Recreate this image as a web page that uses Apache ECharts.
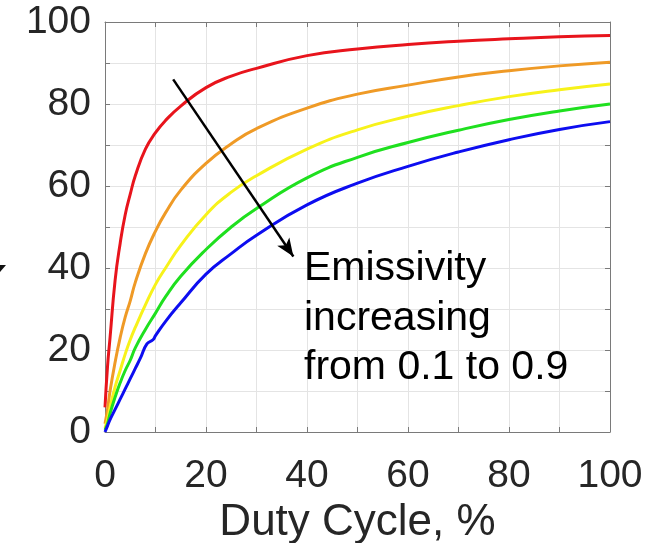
<!DOCTYPE html>
<html>
<head>
<meta charset="utf-8">
<script src="https://cdn.jsdelivr.net/npm/echarts@6/dist/echarts.min.js"></script>
<style>
  html, body { margin: 0; padding: 0; background: #fff; }
  #chart { width: 664px; height: 543px; }
</style>
</head>
<body>
<div id="chart"></div>
<script>
// duty cycle (%) sample points
var dutyX = [0, 0.5, 1, 2, 3, 4, 5, 6, 8, 10, 12, 15, 20, 25, 30, 40, 50, 60, 70, 80, 90, 100];
var blueX = [0, 0.5, 1, 2, 3, 4, 5, 6, 7, 8.3, 9.5, 10, 12, 15, 20, 25, 30, 40, 50, 60, 70, 80, 90, 100];

// one curve per emissivity, red = 0.1 ... blue = 0.9
var red    = [6, 16, 23, 37, 46, 53, 58, 62.5, 69, 73, 76, 79.5, 84, 86.8, 88.7, 91.8, 93.4, 94.5, 95.3, 95.9, 96.4, 96.7];
var orange = [2, 5.5, 10, 17, 23, 28, 32, 36.5, 43.5, 49, 53.5, 59, 65.5, 70.3, 74, 79, 82.4, 84.6, 86.6, 88.1, 89.3, 90.2];
var yellow = [1, 3, 6, 11, 15, 19, 22.5, 25.5, 31, 36, 40, 45.5, 53, 58.5, 62.5, 69, 73.7, 77, 79.6, 81.8, 83.5, 84.9];
var green  = [0.5, 2, 4.5, 8.5, 12, 15, 17.5, 20.5, 25, 29, 33, 38, 44.5, 50, 54.5, 62, 67, 70.6, 73.6, 76.2, 78.3, 80];
var blue   = [0, 1.5, 3, 5.5, 8, 10.5, 13, 15.5, 18, 21.5, 22.5, 23.5, 27, 31.5, 38.5, 43.5, 48, 55.4, 60.7, 64.8, 68.3, 71.3, 73.8, 75.7];

var names  = ['0.1', '0.3', '0.5', '0.7', '0.9'];
var colors = ['#e8141c', '#ef9a26', '#f7f21a', '#1fe01f', '#0d0df0'];

// arrow annotation, in data units
var arrowFrom = [13.5, 86];
var arrowTo   = [37.3, 42.8];
var noteText  = 'Emissivity\nincreasing\nfrom 0.1 to 0.9';

function pairs(xs, ys) {
    return xs.map(function (x, i) { return [x, ys[i]]; });
}

var curves = [
    pairs(dutyX, red),
    pairs(dutyX, orange),
    pairs(dutyX, yellow),
    pairs(dutyX, green),
    pairs(blueX, blue)
];

var axisGray = '#7a7a7a';
var labelFont = 'Liberation Sans, Arial, sans-serif';

function tickLabel(margin) {
    return {
        color: '#262626',
        fontSize: 39,
        fontFamily: labelFont,
        margin: margin,
        formatter: function (v) { return v % 20 === 0 ? String(v) : ''; }
    };
}

function mainAxis(extra) {
    var ax = {
        type: 'value',
        min: 0,
        max: 100,
        interval: 10,
        axisLine: { show: true, onZero: false, lineStyle: { color: axisGray, width: 1 } },
        axisTick: { show: true, inside: true, length: 5, lineStyle: { color: axisGray } },
        splitLine: { show: true, lineStyle: { color: '#e4e4e4', width: 1 } }
    };
    for (var k in extra) ax[k] = extra[k];
    return ax;
}

function boxAxis(pos) {
    return {
        type: 'value',
        position: pos,
        min: 0,
        max: 100,
        interval: 10,
        axisLine: { show: true, onZero: false, lineStyle: { color: axisGray, width: 1 } },
        axisTick: { show: true, inside: true, length: 5, lineStyle: { color: axisGray } },
        axisLabel: { show: false },
        splitLine: { show: false }
    };
}

var series = curves.map(function (d, i) {
    return {
        name: names[i],
        type: 'line',
        data: d,
        xAxisIndex: 0,
        yAxisIndex: 0,
        showSymbol: false,
        smooth: 0.5,
        lineStyle: { color: colors[i], width: 3 },
        itemStyle: { color: colors[i] },
        z: 3
    };
});

series[4].markLine = {
    silent: true,
    symbol: ['none', 'arrow'],
    symbolSize: [11, 18],
    label: { show: false },
    lineStyle: { color: '#000', width: 2.5, type: 'solid' },
    data: [[{ coord: arrowFrom }, { coord: arrowTo }]],
    z: 5
};

var option = {
    backgroundColor: '#fff',
    animation: false,
    grid: { left: 105, right: 54, top: 22, bottom: 111, outerBoundsMode: 'none', containLabel: false },
    xAxis: [
        mainAxis({
            position: 'bottom',
            name: 'Duty Cycle, %',
            nameLocation: 'middle',
            nameGap: 63,
            nameTextStyle: { color: '#262626', fontSize: 44, fontFamily: labelFont },
            axisLabel: tickLabel(25)
        }),
        boxAxis('top')
    ],
    yAxis: [
        mainAxis({
            position: 'left',
            axisLabel: tickLabel(14)
        }),
        boxAxis('right')
    ],
    graphic: [
        {
            type: 'text',
            left: 304,
            top: 244,
            z: 10,
            style: {
                text: noteText,
                fill: '#000',
                font: '41px Liberation Sans, Arial, sans-serif',
                lineHeight: 49.5
            }
        },
        {
            // clipped piece of a neighbouring arrow at the left edge
            type: 'polygon',
            z: 10,
            shape: { points: [[0, 265], [6, 265], [0, 272]] },
            style: { fill: '#111' }
        }
    ],
    series: series
};

var chart = echarts.init(document.getElementById('chart'), null, { renderer: 'canvas' });
chart.setOption(option);
</script>
</body>
</html>
